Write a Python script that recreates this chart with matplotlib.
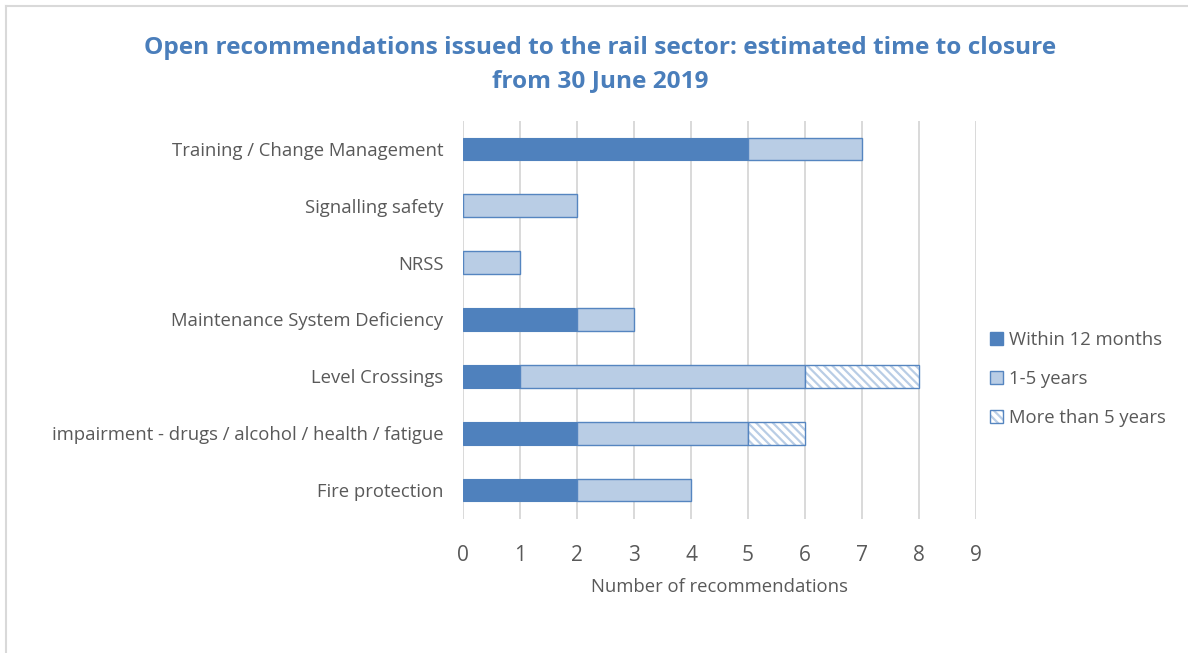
import matplotlib
matplotlib.use("Agg")
import matplotlib.pyplot as plt
from matplotlib.patches import Patch
from matplotlib.lines import Line2D
from matplotlib.legend_handler import HandlerTuple
import numpy as np

categories = ["Training / Change Management",
              "Signalling safety",
              "NRSS",
              "Maintenance System Deficiency",
              "Level Crossings",
              "impairment - drugs / alcohol / health / fatigue",
              "Fire protection"]
within_12_months = [5, 0, 0, 2, 1, 2, 2]
one_to_five_years = [2, 2, 1, 1, 5, 3, 2]
more_than_5_years = [0, 0, 0, 0, 2, 1, 0]
series_labels = ["Within 12 months", "1-5 years", "More than 5 years"]
x_ticks = list(range(0, 10))

DARK = "#4F81BD"
LIGHT = "#B9CDE5"
EDGE = "#5585C0"
GRID = "#D9D9D9"
TEXT = "#595959"

plt.rcParams['font.family'] = ['Open Sans', 'DejaVu Sans']
plt.rcParams['hatch.linewidth'] = 1.6

fig = plt.figure(figsize=(11.88, 6.53), dpi=100)
ax = fig.add_axes([463 / 1188, 1 - 518.5 / 653, 513 / 1188, 398 / 653])

y = np.arange(len(categories))
h = 0.4
w12 = np.array(within_12_months)
w15 = np.array(one_to_five_years)
w5 = np.array(more_than_5_years)

ax.barh(y, w12, height=h, color=DARK, edgecolor=DARK, linewidth=0.8, zorder=3)
ax.barh(y, w15, left=w12, height=h, color=LIGHT, edgecolor=EDGE, linewidth=1.0, zorder=3)
# hatched segment: hatch lines in light blue, outline drawn separately
ax.barh(y, w5, left=w12 + w15, height=h, color="white", edgecolor=LIGHT,
        hatch="\\\\\\\\", linewidth=0, zorder=3)
for yi, l, v in zip(y, w12 + w15, w5):
    if v > 0:
        ax.barh(yi, v, left=l, height=h, facecolor="none", edgecolor=EDGE,
                linewidth=1.0, zorder=4)

ax.set_ylim(len(categories) - 0.5, -0.5)
ax.set_xlim(0, 9)
ax.set_xticks(x_ticks)
ax.set_yticks(y)
ax.set_yticklabels(categories, fontsize=13.3, color=TEXT)
ax.tick_params(axis="y", length=0, pad=14)
ax.tick_params(axis="x", length=0, pad=19, labelsize=15, labelcolor=TEXT)
ax.grid(axis="x", color=GRID, linewidth=1.4, zorder=0)
for s in ax.spines.values():
    s.set_visible(False)
ax.set_xlabel("Number of recommendations", fontsize=13.3, color=TEXT, labelpad=9)

fig.text(600 / 1188, 1 - 64.5 / 653,
         "Open recommendations issued to the rail sector: estimated time to closure\nfrom 30 June 2019",
         ha="center", va="center", fontsize=17.6, fontweight="bold", color="#4A7EBB",
         linespacing=1.45)

hatched = (Patch(facecolor="white", edgecolor=LIGHT, hatch="\\\\\\\\", linewidth=0),
           Patch(facecolor="none", edgecolor=EDGE))
handles = [Patch(facecolor=DARK, edgecolor=DARK),
           Patch(facecolor=LIGHT, edgecolor=EDGE),
           hatched]
fig.legend(handles, series_labels, loc="center left",
           bbox_to_anchor=(973 / 1188, 1 - 379 / 653), frameon=False,
           fontsize=13.3, labelcolor=TEXT, handlelength=0.7, handleheight=0.7,
           handletextpad=0.35, labelspacing=1.15,
           handler_map={tuple: HandlerTuple(ndivide=1, pad=0)})

# outer chart border (top and left visible)
fig.add_artist(Line2D([6 / 1188, 1], [1 - 6 / 653, 1 - 6 / 653], color=GRID, linewidth=1.5))
fig.add_artist(Line2D([6 / 1188, 6 / 1188], [0, 1 - 6 / 653], color=GRID, linewidth=1.5))

fig.savefig("out.png", dpi=100)
